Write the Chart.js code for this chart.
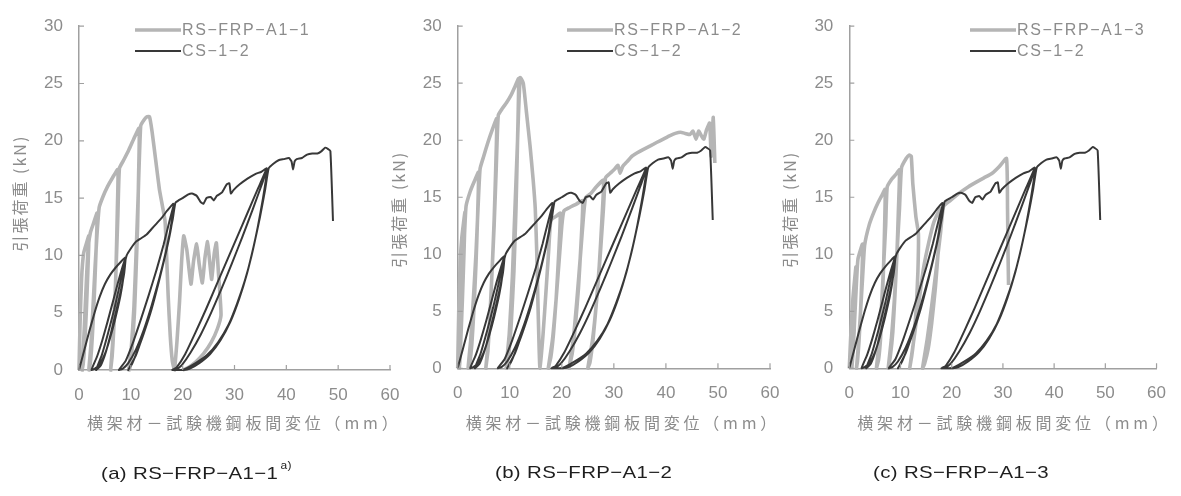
<!DOCTYPE html>
<html>
<head>
<meta charset="utf-8">
<script src="https://cdn.jsdelivr.net/npm/chart.js@4.4.0/dist/chart.umd.min.js"></script>
<style>
  body { margin: 0; background: #fff; width: 1181px; height: 496px; overflow: hidden; position: relative; }
  canvas { position: absolute; left: 0; top: 0; }
  .cap { position: absolute; top: 463px; font: 17px "Liberation Sans", Arial, sans-serif; color: #1e1e1e; letter-spacing: 0.3px; white-space: nowrap; transform: scaleX(1.2); transform-origin: left center; }
  .cap sup { font-size: 10px; position: relative; top: -3px; margin-left: 2px; }
</style>
</head>
<body>
<canvas id="chartA" width="1181" height="496"></canvas>
<canvas id="chartB" width="1181" height="496"></canvas>
<canvas id="chartC" width="1181" height="496"></canvas>
<div class="cap" style="left:101px">(a) RS−FRP−A1−1<sup>a)</sup></div>
<div class="cap" style="left:495px">(b) RS−FRP−A1−2</div>
<div class="cap" style="left:873px">(c) RS−FRP−A1−3</div>

<script>
const xTickValues = [0, 10, 20, 30, 40, 50, 60];
const yTickValues = [0, 5, 10, 15, 20, 25, 30];
const xTitle = "横架材－試験機鋼板間変位（mm）";
const yTitle = "引張荷重 (kN)";
const csLabel = "CS−1−2";
const rsLabels = ["RS−FRP−A1−1", "RS−FRP−A1−2", "RS−FRP−A1−3"];

// CS-1-2 (same test in all three panels): displacement (mm) / load (kN)
const csDisp = [
  0, 1, 2, 3, 4, 5, 6, 7, 8, 8.9,
  8.6, 8, 7, 6, 5, 4, 3, 2.4,
  3.5, 4.5, 5.5, 6.5, 7.5, 8.4, 9.0,
  8.7, 8.1, 7.2, 6.2, 5.2, 4.2, 3.3,
  4.4, 5.6, 6.8, 7.9, 8.7, 9.2,
  10, 11, 12, 13, 14, 15, 16, 17, 18.2,
  17.9, 17, 15.5, 14, 12.5, 11, 9.5, 8.4, 7.7,
  9, 10.5, 12, 13.5, 15, 16.3, 17.4, 18.3,
  17.8, 16.8, 15.4, 14, 12.5, 11.2, 10.2, 9.5,
  11, 12.6, 14.2, 15.7, 17, 18.1, 18.6,
  19.2, 20, 21, 21.8, 22.7, 23.4, 24, 24.6, 25.4, 26, 26.6, 27.6, 28.5, 29, 29.3, 29.8, 31, 32.5, 34, 35.2, 36.2,
  34.5, 32.5, 30.5, 28.5, 26.5, 24.5, 22.5, 20.5, 18.8, 18,
  19.5, 20.5,
  22.5, 24.7, 26.8, 28.8, 30.5, 32, 33.3, 34.5, 35.5, 36.3,
  35.2, 33.5, 31.5, 29.5, 27.5, 25.5, 23.5, 21.5, 19.8, 18.8,
  20.2, 21.3,
  23.2, 25.3, 27.3, 29.2, 30.9, 32.4, 33.7, 34.9, 35.9, 36.6,
  37.5, 38.5, 39.5, 40.5, 41, 41.3, 41.6, 42, 43, 44, 45, 46, 46.8, 47.5, 48, 48.5, 49.0
];
const csLoad = [
  0, 1.7, 3.4, 5, 6.4, 7.5, 8.3, 8.9, 9.4, 9.8,
  8.2, 6.5, 4.5, 2.8, 1.4, 0.5, 0.1, 0,
  1.2, 2.6, 4.2, 5.9, 7.6, 9.0, 9.8,
  8.4, 7.0, 5.2, 3.3, 1.6, 0.4, 0,
  1.3, 3.2, 5.3, 7.5, 9.1, 10.0,
  10.6, 11.2, 11.5, 11.8, 12.3, 12.8, 13.3, 13.9, 14.5,
  13, 10.8, 8, 5.6, 3.5, 1.8, 0.6, 0.1, 0,
  0.8, 2.5, 4.5, 6.6, 8.8, 10.9, 12.9, 14.4,
  12.5, 10.3, 7.7, 5.3, 3.2, 1.6, 0.5, 0,
  1.3, 3.4, 5.8, 8.3, 10.8, 13.2, 14.6,
  14.8, 15.0, 15.3, 15.4, 15.2, 14.7, 14.5, 15.0, 15.1, 14.8, 15.2, 15.5, 16.2, 16.3, 15.4, 15.7, 16.2, 16.7, 17.1, 17.3, 17.6,
  15.8, 13.7, 11.6, 9.5, 7.4, 5.3, 3.3, 1.4, 0.2, 0,
  0, 0.1,
  0.6, 1.3, 2.4, 3.9, 5.8, 7.8, 10, 12.5, 15, 17.5,
  16.1, 14, 11.6, 9.3, 7.1, 5, 3.1, 1.5, 0.4, 0,
  0, 0.1,
  0.6, 1.4, 2.6, 4.2, 6.2, 8.4, 10.8, 13.3, 15.7, 17.6,
  18, 18.3, 18.4, 18.5, 18.2, 17.5, 18.2, 18.4, 18.5, 18.8, 18.9, 18.9, 19.1, 19.4, 19.3, 19.1, 13.0
];

// RS-FRP-A1-1
const rs1Disp = [
  0, 0.2, 0.5, 0.9, 1.4, 1.9,
  1.7, 1.4, 1.1, 0.8, 0.6,
  0.9, 1.2, 1.5, 1.8, 2.2,
  2.8, 3.5,
  3.3, 3, 2.7, 2.4, 2.1, 1.9,
  2.3, 2.7, 3.1, 3.5, 3.9,
  4.6, 5.5, 6.5, 7.5,
  7.4, 7.2, 7, 6.7, 6.4, 6.1,
  6.5, 6.9, 7.2, 7.5, 7.8,
  8.6, 9.6, 10.6, 11.6,
  11.5, 11.3, 11, 10.7, 10.3, 9.9, 9.6,
  10.1, 10.6, 11, 11.4, 11.9,
  12.5, 13.1, 13.6,
  14.1, 14.8, 15.5, 16.1, 16.6,
  16.9, 17.2, 17.6, 18, 18.4,
  18.9, 19.4, 19.8, 20.2,
  20.8, 21.6, 22.1, 22.7, 23.2, 23.8, 24.3, 24.8, 25.2, 25.6, 26.1, 26.5, 26.9, 27.4,
  26.7, 25.5, 24, 22.5, 21, 20
];
const rs1Load = [
  0, 4, 8, 10.2, 11, 11.7,
  8.5, 5, 2.2, 0.5, 0,
  2.5, 5.5, 8.5, 10.8, 12,
  12.8, 13.7,
  10.5, 7, 4, 1.7, 0.3, 0,
  2.2, 5.5, 9, 12, 14.2,
  15.1, 16, 16.8, 17.5,
  14, 10, 6.5, 3.5, 1.2, 0,
  2.4, 5.8, 9.5, 13.5, 17.6,
  18.3, 19.2, 20.2, 21.1,
  17, 12.5, 8.5, 5, 2.2, 0.5, 0,
  2, 5.5, 10, 15, 21.3,
  21.8, 22.1, 22.1,
  20.8, 18.3, 15.8, 14.3, 13,
  10, 6.5, 3, 0.8, 0,
  2.5, 6, 9.5, 11.7,
  10.5, 7.5, 9.5, 11.0, 9.2, 7.6, 9.8, 11.2, 9.5, 7.9, 10.2, 11.1, 8.5, 4.8,
  3.6, 2.4, 1.4, 0.7, 0.2, 0
];

// RS-FRP-A1-2
const rs2Disp = [
  0, 0.2, 0.5, 0.8, 1.4,
  1.2, 0.9, 0.6, 0.4, 0.3,
  0.6, 0.9, 1.2, 1.6,
  2.4, 3.2, 4,
  3.8, 3.5, 3.1, 2.7, 2.3, 2,
  2.5, 3, 3.5, 3.9, 4.3,
  5, 5.8, 6.7, 7.5,
  7.3, 7, 6.6, 6.2, 5.8, 5.4,
  6, 6.5, 7, 7.4, 7.8,
  8.6, 9.4, 10.3, 11, 11.7,
  11.5, 11.2, 10.8, 10.3, 9.8, 9.3,
  9.9, 10.5, 11, 11.5, 12,
  12.6,
  13.2, 13.9, 14.5, 14.9, 15.2, 15.4, 15.6, 15.8,
  16.4, 17, 17.5, 17.9,
  18.8, 19.7,
  19.4, 18.9, 18.4, 17.9, 17.4,
  18.2, 18.9, 19.5, 20, 20.4,
  21.5, 22.8, 24,
  23.7, 23.2, 22.6, 22, 21.4,
  22.2, 22.9, 23.6, 24.2, 24.6,
  25.5, 26.6, 28,
  27.7, 27.2, 26.6, 26, 25.4, 25,
  25.9, 26.7, 27.4, 28, 28.4,
  29.3, 30.2, 30.8, 31.2, 31.7, 32.5, 33.5, 34.5, 35.7, 37, 38.2, 39.5, 40.8, 41.8, 42.8, 43.7, 44.6, 45.2, 45.8, 46.3, 46.8, 47.3, 47.8, 48.4, 48.7, 49.1, 49.4
];
const rs2Load = [
  0, 5, 9.5, 11.5, 13.7,
  10, 6, 2.5, 0.5, 0,
  3, 7, 10.5, 14.2,
  15.5, 16.4, 17.2,
  13, 9, 5, 2, 0.4, 0,
  2.5, 6, 10, 14, 17.5,
  18.6, 19.8, 21, 21.9,
  17.5, 13, 8.5, 4.5, 1.5, 0,
  3, 7.5, 12.5, 17.5, 22.2,
  22.8, 23.3, 24, 24.7, 25.4,
  20, 14, 8.5, 4, 1.2, 0,
  3, 8, 14, 20, 25.5,
  25,
  22.5, 19.5, 16.5, 14, 10, 6, 2.5, 0,
  3, 7, 10.5, 13,
  13.3, 13.6,
  10, 6, 3, 1, 0,
  2.5, 6, 9.5, 12.5, 13.8,
  14.1, 14.4, 14.7,
  11, 7, 3.7, 1.3, 0,
  2.5, 6, 10, 13.5, 15,
  15.3, 15.9, 16.5,
  13, 9, 5.5, 2.5, 0.5, 0,
  2.5, 6, 10, 14, 16.7,
  17.1, 17.5, 17.8, 17.1, 17.7, 18.1, 18.6, 18.9, 19.2, 19.5, 19.8, 20.1, 20.4, 20.6, 20.7, 20.6, 20.5, 20.8, 20.1, 20.8, 20.4, 20.1, 20.9, 21.5, 18.6, 22, 18
];

// RS-FRP-A1-3
const rs3Disp = [
  0, 0.3, 0.7, 1.3,
  1.15, 0.95, 0.7, 0.5,
  0.8, 1.1, 1.4, 1.7,
  2.6,
  2.45, 2.2, 1.9, 1.6, 1.4,
  1.8, 2.2, 2.6, 3,
  3.9, 4.8, 5.7, 6.4, 7,
  6.9, 6.7, 6.4, 6.1, 5.7, 5.3,
  5.8, 6.3, 6.7, 7.1, 7.4,
  8.3, 9.1, 9.8,
  9.6, 9.3, 8.9, 8.5, 8, 7.6,
  8.2, 8.8, 9.3, 9.8, 10.2,
  11.1, 11.7, 12.1,
  12.4, 13, 13.5,
  13.4, 13.1, 12.7, 12.2, 11.8,
  12.6, 13.5, 14.5, 15.5, 16.5, 17.8,
  17.4, 16.8, 16.1, 15.4, 14.7, 14.3,
  15.2, 16.1, 17, 17.8, 18.4,
  19.7, 21.6, 23.2, 24.7, 26.3, 27.9, 29.3, 30.7,
  30.9, 31, 31.1
];
const rs3Load = [
  0, 3, 6.1, 8.9,
  6, 3.3, 1.2, 0,
  2, 4.8, 7.5, 9.6,
  10.9,
  8, 5, 2.4, 0.6, 0,
  2.2, 5, 8, 10.8,
  12.6, 13.7, 14.6, 15.2, 15.7,
  12.5, 9, 5.5, 2.6, 0.7, 0,
  2.2, 5.5, 9, 12.5, 15.9,
  16.6, 17, 17.4,
  14, 10, 6.3, 3.2, 1, 0,
  2.5, 6, 10, 14, 17.6,
  18.4, 18.7, 18.6,
  16.2, 13.3, 11.8,
  8.5, 5.5, 3, 1.1, 0,
  2.5, 5.5, 8.8, 11, 12.8, 14,
  10.5, 7, 4, 1.7, 0.4, 0,
  2.5, 5.5, 8.8, 11.8, 14.2,
  14.7, 15.4, 15.9, 16.3, 16.7, 17.1, 17.7, 18.4,
  14, 10, 7.3
];

const rsDisp = [rs1Disp, rs2Disp, rs3Disp];
const rsLoad = [rs1Load, rs2Load, rs3Load];

const axisColor = "#a0a0a0";
const textColor = "#8c8c8c";
const rsColor = "#b5b5b5";
const csColor = "#383838";

// page layout of each panel (plot box in page pixels)
const panelBoxes = [
  { id: "chartA", left: 79, right: 390, top: 16.7, bottom: 370, legendX: 135, yTitleDy: -5 },
  { id: "chartB", left: 457.7, right: 770, top: 15, bottom: 368.3, legendX: 567, yTitleDy: 12 },
  { id: "chartC", left: 849.3, right: 1166.7, top: 15, bottom: 368.3, legendX: 970, yTitleDy: 12 }
];

function toPoints(xs, ys) {
    return xs.map((x, i) => ({ x: x, y: ys[i] }));
}

const panelDecor = {
    id: "panelDecor",
    afterDraw(chart, args, opts) {
        const ctx = chart.ctx;
        const area = chart.chartArea;
        const sx = chart.scales.x;
        const sy = chart.scales.y;
        ctx.save();
        // inward tick marks
        ctx.strokeStyle = axisColor;
        ctx.lineWidth = 1.2;
        ctx.beginPath();
        xTickValues.forEach(v => {
            const px = sx.getPixelForValue(v);
            ctx.moveTo(px, area.bottom);
            ctx.lineTo(px, area.bottom - 5);
        });
        yTickValues.forEach(v => {
            const py = sy.getPixelForValue(v);
            ctx.moveTo(area.left, py);
            ctx.lineTo(area.left + 5, py);
        });
        ctx.stroke();

        // axis titles
        ctx.fillStyle = textColor;
        ctx.font = '16px "Noto Sans CJK JP", "Liberation Sans", sans-serif';
        ctx.textBaseline = "middle";
        ctx.textAlign = "left";
        ctx.letterSpacing = "3.8px";
        ctx.fillText(xTitle, area.left + 8, 423);

        ctx.save();
        ctx.translate(area.left - 59, (area.top + area.bottom) / 2 + opts.yTitleDy);
        ctx.rotate(-Math.PI / 2);
        ctx.textAlign = "center";
        ctx.letterSpacing = "2px";
        ctx.fillText(yTitle, 0, 0);
        ctx.restore();

        // legend
        ctx.letterSpacing = "1.6px";
        ctx.font = '16px "Liberation Sans", Arial, sans-serif';
        chart.data.datasets.slice().sort((a, b) => b.order - a.order).forEach((ds, i) => {
            const y = 30 + i * 21;
            ctx.strokeStyle = ds.borderColor;
            ctx.lineWidth = ds.borderWidth;
            ctx.beginPath();
            ctx.moveTo(opts.legendX, y);
            ctx.lineTo(opts.legendX + 46, y);
            ctx.stroke();
            ctx.fillStyle = textColor;
            ctx.fillText(ds.label, opts.legendX + 47, y + 1);
        });
        ctx.restore();
    }
};

function makePanel(box, idx) {
    const ctx = document.getElementById(box.id).getContext("2d");
    new Chart(ctx, {
        type: "scatter",
        data: {
            datasets: [
                {
                    label: csLabel,
                    data: toPoints(csDisp, csLoad),
                    showLine: true,
                    borderColor: csColor,
                    borderWidth: 2,
                    pointRadius: 0,
                    tension: 0.15,
                    order: 0,
                    clip: 4
                },
                {
                    label: rsLabels[idx],
                    data: toPoints(rsDisp[idx], rsLoad[idx]),
                    showLine: true,
                    borderColor: rsColor,
                    borderWidth: 3.6,
                    pointRadius: 0,
                    tension: 0.15,
                    order: 1,
                    clip: 4
                }
            ]
        },
        options: {
            responsive: false,
            animation: false,
            devicePixelRatio: 1,
            layout: {
                padding: {
                    left: box.left - 60,
                    right: 1181 - box.right,
                    top: box.top,
                    bottom: 496 - box.bottom - 40
                }
            },
            plugins: {
                legend: { display: false },
                tooltip: { enabled: false },
                panelDecor: { legendX: box.legendX, yTitleDy: box.yTitleDy }
            },
            scales: {
                x: {
                    type: "linear",
                    min: 0,
                    max: 60,
                    afterFit: s => { s.height = 40; },
                    afterBuildTicks: s => { s.ticks = xTickValues.map(v => ({ value: v })); },
                    grid: { drawOnChartArea: false, drawTicks: false },
                    border: { color: axisColor, width: 1.5 },
                    ticks: { color: textColor, padding: 15, font: { family: "Liberation Sans", size: 17 } }
                },
                y: {
                    type: "linear",
                    min: 0,
                    max: 30,
                    afterFit: s => { s.width = 60; },
                    afterBuildTicks: s => { s.ticks = yTickValues.map(v => ({ value: v })); },
                    grid: { drawOnChartArea: false, drawTicks: false },
                    border: { color: axisColor, width: 1.5 },
                    ticks: { color: textColor, padding: 16, font: { family: "Liberation Sans", size: 17 } }
                }
            }
        },
        plugins: [panelDecor]
    });
}

panelBoxes.forEach(makePanel);
</script>
</body>
</html>
